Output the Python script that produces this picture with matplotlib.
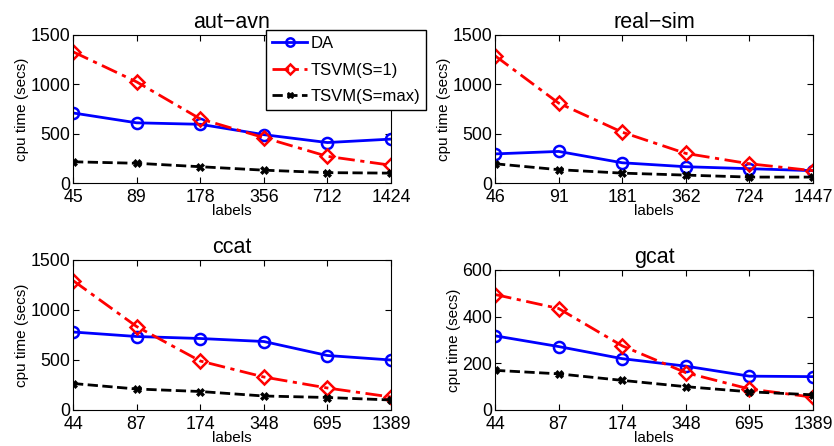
import matplotlib
matplotlib.use("Agg")
import matplotlib.pyplot as plt

plt.rcParams['font.family'] = ['Liberation Sans', 'DejaVu Sans']

# datos
titles = ["aut\u2212avn", "real\u2212sim", "ccat", "gcat"]
tick_labels = [
    ["45", "89", "178", "356", "712", "1424"],
    ["46", "91", "181", "362", "724", "1447"],
    ["44", "87", "174", "348", "695", "1389"],
    ["44", "87", "174", "348", "695", "1389"],
]
da = [
    [710, 610, 595, 490, 410, 445],
    [295, 320, 205, 165, 145, 125],
    [780, 735, 715, 685, 545, 500],
    [318, 272, 220, 188, 145, 143],
]
tsvm_1 = [
    [1330, 1025, 650, 460, 270, 180],
    [1290, 810, 515, 300, 195, 125],
    [1295, 835, 490, 330, 220, 130],
    [495, 435, 275, 160, 90, 55],
]
tsvm_max = [
    [215, 200, 165, 130, 105, 100],
    [195, 135, 100, 80, 60, 60],
    [265, 210, 185, 140, 125, 100],
    [170, 155, 127, 100, 78, 65],
]
y_max = [1500, 1500, 1500, 600]
y_step = [500, 500, 500, 200]

W, H = 834, 446
fig = plt.figure(figsize=(W / 100, H / 100), dpi=100)

# posiciones de los ejes en pixeles (izq, arriba, der, abajo)
boxes = [(73, 35, 391, 183), (495, 35, 813, 183),
         (73, 260, 391, 410), (495, 270, 813, 410)]

for k in range(4):
    l, t, r, b = boxes[k]
    ax = fig.add_axes([l / W, 1 - b / H, (r - l) / W, (b - t) / H])
    x = list(range(len(tick_labels[k])))
    ax.plot(x, da[k], '-o', color='blue', lw=2, ms=8, mfc='none', mew=1.8, label='DA')
    ax.plot(x, tsvm_1[k], '-.D', color='red', lw=2, ms=7, mfc='none', mew=1.8,
            dashes=(6, 2, 1.5, 2), label='TSVM(S=1)')
    ax.plot(x, tsvm_max[k], '--X', color='black', lw=2, ms=6, mfc='black', mec='black', mew=0.5,
            label='TSVM(S=max)')
    ax.set_xlim(0, 5)
    ax.set_ylim(0, y_max[k])
    ax.set_xticks(x)
    ax.set_xticklabels(tick_labels[k])
    ax.set_yticks(range(0, y_max[k] + 1, y_step[k]))
    ax.tick_params(direction='in', top=True, right=True, labelsize=12.8, length=4)
    ax.tick_params(axis='x', pad=4)
    ax.tick_params(axis='y', pad=2)
    ax.set_title(titles[k], fontsize=15.5, pad=5)
    ax.set_xlabel('labels', fontsize=11, labelpad=-1)
    ax.set_ylabel('cpu time (secs)', fontsize=11, labelpad=1)
    if k == 0:
        leg = ax.legend(loc='upper right', bbox_to_anchor=(426 / W, 1 - 30 / H),
                        bbox_transform=fig.transFigure, borderaxespad=0,
                        fontsize=12, fancybox=False,
                        edgecolor='black', framealpha=1, handlelength=2.1, markerscale=0.75,
                        borderpad=0.35, labelspacing=0.7, handletextpad=0.2)
        leg.get_frame().set_linewidth(1.0)
        leg.set_zorder(10)

fig.savefig('out.png', dpi=100)
